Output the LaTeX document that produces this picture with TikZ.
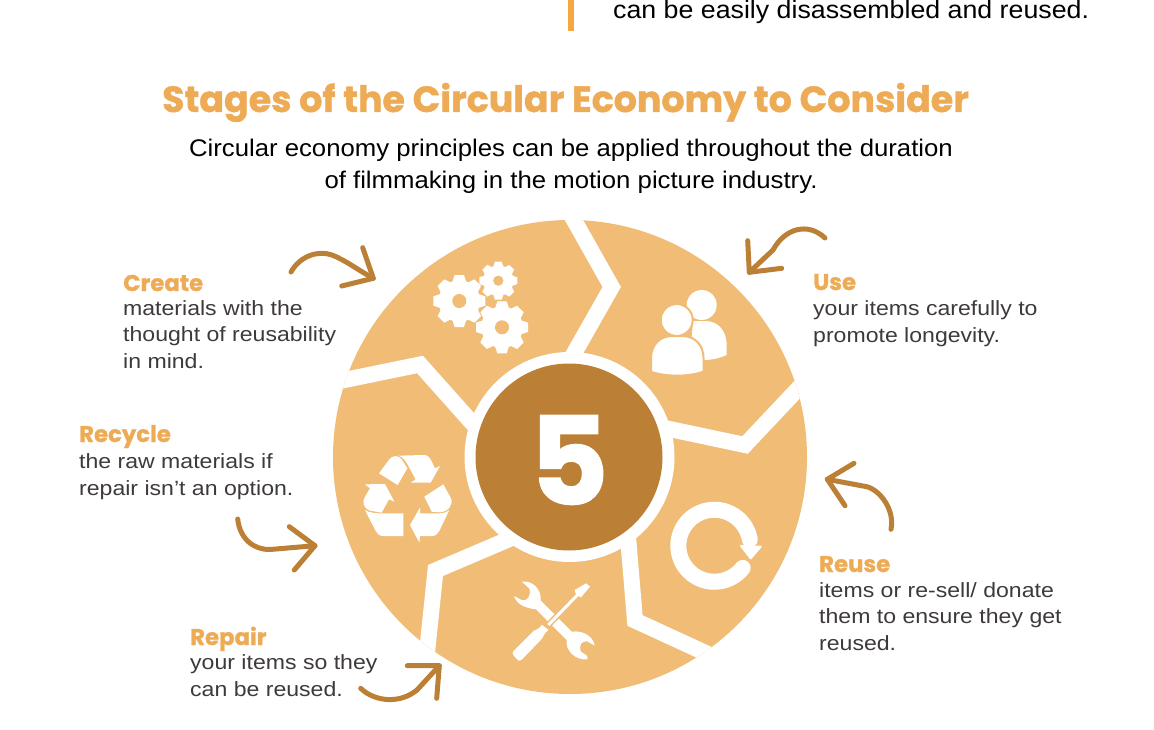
\documentclass[tikz,border=0pt]{standalone}
\usepackage{fontspec}
\setmainfont{Liberation Sans}
\newfontfamily\bodyfont[FakeStretch=1.12]{Liberation Sans}
\newfontfamily\introfont[FakeStretch=1.07]{Liberation Sans}
\newfontfamily\headfont[BoldFont={Poppins Bold},BoldFeatures={FakeBold=1.2}]{Poppins}
\definecolor{segfill}{HTML}{F0BC76}
\definecolor{hubfill}{HTML}{BB7F35}
\definecolor{headcol}{HTML}{EEAB56}
\definecolor{barcol}{HTML}{F4A83E}
\definecolor{textcol}{HTML}{3E3A39}
\tikzset{
	stagehead/.style={anchor=base west,inner sep=0pt,text=headcol,font=\headfont\bfseries\fontsize{22.8}{26}\selectfont},
	stagebody/.style={anchor=base west,inner sep=0pt,align=left,text=textcol,font=\bodyfont\fontsize{20.6}{26.5}\selectfont},
	introtext/.style={inner sep=0pt,align=center,text=black,font=\introfont\fontsize{24.05}{32}\selectfont},
	divider/.style={draw=white,line width=16pt,miter limit=10},
	bentarrow/.style={draw=hubfill,line width=5pt,line cap=round,line join=round}
}
\newcommand{\gearicon}[3]{
	\begin{scope}[shift={(#1)},scale=#2]
		\fill[white] (0,0) circle (0.8);
		\foreach \a in {0,45,...,315}
			\fill[white,rotate=\a] (-0.27,0.72) -- (-0.18,1) -- (0.18,1) -- (0.27,0.72) -- cycle;
		\fill[segfill] (0,0) circle (#3);
	\end{scope}
}
\begin{document}
\begin{tikzpicture}[x=1pt,y=-1pt]
	\useasboundingbox (0,0) rectangle (1154,730);
	\fill[barcol] (568,-2) rectangle (574,31);
	\node[introtext,anchor=base west,font=\introfont\fontsize{25}{32}\selectfont] (topline) at (613,19) {can be easily disassembled and reused.};
	\node[anchor=base,inner sep=0pt,text=headcol,font=\headfont\bfseries\fontsize{36.4}{38}\selectfont] (title) at (565.5,112) {Stages of the Circular Economy to Consider};
	\node[introtext,anchor=base] (intro) at (571,189) {Circular economy principles can be applied throughout the duration\\of filmmaking in the motion picture industry.};

	\fill[segfill] (570,457) circle (237);
	\begin{scope}
		\clip (570,457) circle (237);
		\draw[divider] (568.3,210) -- (611.7,287) -- (568,364);
		\draw[divider] (811,375) -- (745,445) -- (660,427);
		\draw[divider] (723,661) -- (635,620.5) -- (627,525);
		\draw[divider] (425.5,667) -- (435.5,570.5) -- (520,534.5);
		\draw[divider] (325,384) -- (420,364.5) -- (482,434);
	\end{scope}
	\fill[white] (569.5,457) circle (105);
	\fill[hubfill] (569,457) circle (93.5);
	\node[inner sep=0pt,text=white,font=\headfont\bfseries\fontsize{122}{122}\selectfont] (five) at (569,460) {5};

	\gearicon{459.3,301}{26}{0.27}
	\gearicon{498.3,280.7}{19}{0.27}
	\gearicon{502,327.3}{26}{0.27}

	\fill[white] (701.7,305) circle (15);
	\fill[white] (693,321) -- (705,321) .. controls (720,321) and (726.7,333) .. (726.7,345) -- (726.7,355) .. controls (720,358) and (712,360) .. (705,360) -- (690,360) -- cycle;
	\filldraw[white,draw=segfill,line width=2pt] (676.7,320) circle (16);
	\filldraw[white,draw=segfill,line width=2pt] (651,371.7) -- (651,358) .. controls (651,345) and (660,336) .. (672,336) -- (682,336) .. controls (695,336) and (703.5,345) .. (703.5,358) -- (703.5,371.7) .. controls (688,377) and (666,377) .. (651,371.7) -- cycle;

	\begin{scope}[shift={(320,450)},scale=1/3]
		\fill[white] (177,70) -- (208,28) .. controls (218,15) and (235,15) .. (245,28) -- (262,55) -- (233,105) -- cycle;
		\fill[white] (235,17) -- (310,15) .. controls (322,15) and (328,20) .. (332,28) -- (345,55) -- (360,48) -- (332,98) -- (272,98) -- (287,88) -- (262,42) .. controls (255,30) and (248,22) .. (235,17) -- cycle;
		\fill[white] (135,103) -- (195,102) -- (223,155) -- (207,148) -- (185,188) -- (150,182) .. controls (130,175) and (125,155) .. (135,140) -- (150,115) -- cycle;
		\fill[white] (135,180) .. controls (150,190) and (170,190) .. (190,190) -- (250,190) -- (250,258) -- (190,258) .. controls (178,258) and (172,252) .. (167,243) -- cycle;
		\fill[white] (313,140) -- (370,103) -- (393,145) .. controls (400,165) and (385,185) .. (360,187) -- (335,185) -- cycle;
		\fill[white] (388,180) .. controls (375,190) and (365,190) .. (350,190) -- (300,190) -- (300,173) -- (270,225) -- (298,278) -- (300,258) -- (335,258) .. controls (347,258) and (353,252) .. (358,243) -- cycle;
	\end{scope}

	\begin{scope}[shift={(500,570)},scale=1/3]
		\fill[white] (65,35) .. controls (95,30) and (125,55) .. (122,92) -- (215,185) .. controls (250,180) and (280,200) .. (284,227) -- (262,214) .. controls (245,212) and (235,225) .. (243,245) -- (262,258) -- (262,268) .. controls (225,272) and (195,240) .. (200,210) -- (108,118) .. controls (80,115) and (50,105) .. (42,78) -- (65,90) .. controls (80,95) and (95,80) .. (88,55) -- cycle;
		\draw[segfill,line width=6pt] (235,72) -- (145,165);
		\draw[white,line width=3pt] (235,72) -- (145,165);
		\fill[white] (258,40) -- (270,50) -- (243,82) -- (228,74) -- (224,60) -- cycle;
		\filldraw[white,draw=segfill,line width=1.5pt] (125,160) -- (150,180) -- (138,190) .. controls (133,195) and (133,202) .. (128,208) -- (68,270) .. controls (58,280) and (50,272) .. (42,262) .. controls (33,252) and (33,248) .. (40,240) -- (100,180) .. controls (108,175) and (115,175) .. (118,170) -- cycle;
	\end{scope}

	\draw[white,line width=16pt,line cap=round] (742.7,567.9) arc[start angle=38,end angle=350,radius=36];
	\filldraw[white,draw=white,line width=2pt,line join=round] (741,546) -- (760.7,546.7) -- (750.7,558.3) -- cycle;

	\coordinate (createtip) at (373.3,278.3);
	\coordinate (usetip) at (749.3,272.3);
	\coordinate (reusetip) at (827.3,479.3);
	\coordinate (recycletip) at (315,545.7);
	\coordinate (repairtip) at (439.3,665.7);
	\draw[bentarrow] (291,272) .. controls (300,256) and (318,250) .. (332,255) .. controls (345,260) and (358,270) .. (createtip);
	\draw[bentarrow] (362.7,247.7) -- (createtip) -- (341.7,286);
	\draw[bentarrow] (825,238) .. controls (808,222) and (785,228) .. (773,250) -- (usetip);
	\draw[bentarrow] (747.7,240.7) -- (usetip) -- (781.7,268.3);
	\draw[bentarrow] (891,529.3) .. controls (895,510) and (880,490) .. (866.7,486.7) -- (reusetip);
	\draw[bentarrow] (854,463.3) -- (reusetip) -- (845,505.7);
	\draw[bentarrow] (237.7,519) .. controls (240,540) and (255,550) .. (270,549.5) -- (recycletip);
	\draw[bentarrow] (289.3,526.7) -- (recycletip) -- (294.3,570);
	\draw[bentarrow] (360.7,688.3) .. controls (375,702) and (400,704) .. (417,690) -- (repairtip);
	\draw[bentarrow] (407.3,665.7) -- (repairtip) -- (436.7,698.3);

	\node[stagehead] (create) at (123,291) {Create};
	\node[stagebody] (createtext) at (123,368) {materials with the\\thought of reusability\\in mind.};
	\node[stagehead] (use) at (813,290) {Use};
	\node[stagebody] (usetext) at (813,342) {your items carefully to\\promote longevity.};
	\node[stagehead] (recycle) at (79,442) {Recycle};
	\node[stagebody] (recycletext) at (79,495) {the raw materials if\\repair isn’t an option.};
	\node[stagehead] (reuse) at (819,572) {Reuse};
	\node[stagebody] (reusetext) at (819,650) {items or re-sell/ donate\\them to ensure they get\\reused.};
	\node[stagehead] (repair) at (190,645) {Repair};
	\node[stagebody] (repairtext) at (190,696) {your items so they\\can be reused.};
\end{tikzpicture}
\end{document}
